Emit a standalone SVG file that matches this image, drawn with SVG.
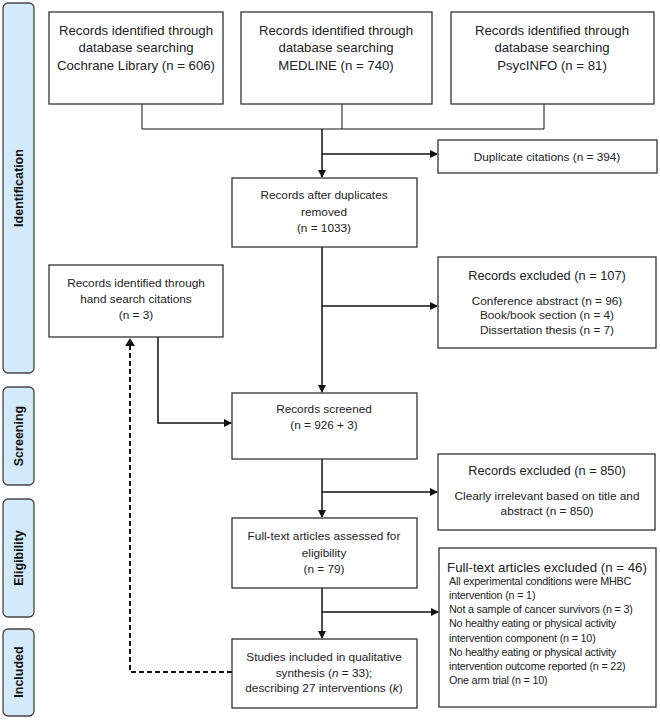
<svg xmlns="http://www.w3.org/2000/svg" width="660" height="720" viewBox="0 0 660 720">
<style>
.box{fill:#fff;stroke:#333;stroke-width:1.3}
.bar{fill:#d2eafb;stroke:#444;stroke-width:1.3}
.t{font-family:"Liberation Sans",Arial,sans-serif;font-size:13.2px;fill:#222;text-anchor:middle}
.s{font-family:"Liberation Sans",Arial,sans-serif;font-size:11.8px;fill:#222;text-anchor:middle}
.h{font-family:"Liberation Sans",Arial,sans-serif;font-size:12.8px;fill:#222;text-anchor:middle}
.h2{font-family:"Liberation Sans",Arial,sans-serif;font-size:13.3px;fill:#222;text-anchor:middle}
.l{font-family:"Liberation Sans",Arial,sans-serif;font-size:10.8px;fill:#222;letter-spacing:-0.2px}
.side{font-family:"Liberation Sans",Arial,sans-serif;font-size:12.5px;font-weight:bold;fill:#111;text-anchor:middle}
.c{fill:none;stroke:#111;stroke-width:1.5}
.cl{fill:none;stroke:#111;stroke-width:1}
.d{fill:none;stroke:#111;stroke-width:2;stroke-dasharray:5,3}
</style>
<defs>
<marker id="ah" markerWidth="8" markerHeight="8" refX="7" refY="4" orient="auto" markerUnits="userSpaceOnUse"><path d="M0,0 L8,4 L0,8 Z" fill="#111"/></marker>
</defs>
<rect width="660" height="720" fill="#fff"/>
<g id="phases">
<g id="phase-identification"><rect class="bar" x="3" y="3" width="31" height="370" rx="5"/><text class="side" transform="translate(23,188) rotate(-90)">Identification</text></g>
<g id="phase-screening"><rect class="bar" x="3" y="387" width="31" height="98" rx="5"/><text class="side" transform="translate(23,436) rotate(-90)">Screening</text></g>
<g id="phase-eligibility"><rect class="bar" x="3" y="499" width="31" height="118" rx="5"/><text class="side" transform="translate(23,558) rotate(-90)">Eligibility</text></g>
<g id="phase-included"><rect class="bar" x="3" y="629" width="31" height="87" rx="5"/><text class="side" transform="translate(23,672) rotate(-90)">Included</text></g>
</g>
<g id="connectors">
<path class="cl" d="M142,104 V129 H544 V104 M342,104 V129"/>
<path class="c" d="M322,129 V177" marker-end="url(#ah)"/>
<path class="c" d="M322,154 H437" marker-end="url(#ah)"/>
<path class="c" d="M322,247 V392" marker-end="url(#ah)"/>
<path class="c" d="M322,306 H437" marker-end="url(#ah)"/>
<path class="c" d="M158,337 V423 H231" marker-end="url(#ah)"/>
<path class="c" d="M322,459 V517" marker-end="url(#ah)"/>
<path class="c" d="M322,492 H437" marker-end="url(#ah)"/>
<path class="c" d="M322,588 V638" marker-end="url(#ah)"/>
<path class="c" d="M322,612 H438" marker-end="url(#ah)"/>
<path class="d" d="M232,672 H130 V346"/>
<path d="M125,346 L130,338 L135,346 Z" fill="#111"/>
</g>
<g id="cochrane"><rect class="box" x="49" y="12" width="174" height="92"/>
<text class="t" x="136" y="35">Records identified through</text><text class="t" x="136" y="52">database searching</text><text class="t" x="136" y="70">Cochrane Library (n = 606)</text></g>
<g id="medline"><rect class="box" x="241" y="12" width="191" height="92"/>
<text class="t" x="336" y="35">Records identified through</text><text class="t" x="336" y="52">database searching</text><text class="t" x="336" y="70">MEDLINE (n = 740)</text></g>
<g id="psycinfo"><rect class="box" x="451" y="12" width="203" height="92"/>
<text class="t" x="552" y="35">Records identified through</text><text class="t" x="552" y="52">database searching</text><text class="t" x="552" y="70">PsycINFO (n = 81)</text></g>
<g id="duplicates"><rect class="box" x="438" y="140" width="219" height="33"/>
<text class="s" x="547" y="161">Duplicate citations (n = 394)</text></g>
<g id="after-duplicates"><rect class="box" x="232" y="178" width="185" height="69"/>
<text class="s" x="324" y="199">Records after duplicates</text><text class="s" x="324" y="216">removed</text><text class="s" x="324" y="232">(n = 1033)</text></g>
<g id="hand-search"><rect class="box" x="49" y="265" width="174" height="72"/>
<text class="s" x="136" y="287">Records identified through</text><text class="s" x="136" y="303">hand search citations</text><text class="s" x="136" y="319">(n = 3)</text></g>
<g id="excluded-107"><rect class="box" x="438" y="257" width="218" height="91"/>
<text class="h" x="547" y="280">Records excluded (n = 107)</text>
<text class="s" x="547" y="305">Conference abstract (n = 96)</text><text class="s" x="547" y="319">Book/book section (n = 4)</text><text class="s" x="547" y="334">Dissertation thesis (n = 7)</text></g>
<g id="screened"><rect class="box" x="232" y="393" width="185" height="66"/>
<text class="s" x="324" y="413">Records screened</text><text class="s" x="324" y="429">(n = 926 + 3)</text></g>
<g id="excluded-850"><rect class="box" x="438" y="454" width="217" height="76"/>
<text class="h" x="547" y="475">Records excluded (n = 850)</text>
<text class="s" x="547" y="500">Clearly irrelevant based on title and</text><text class="s" x="547" y="515">abstract (n = 850)</text></g>
<g id="fulltext"><rect class="box" x="232" y="518" width="185" height="70"/>
<text class="s" x="324" y="540">Full-text articles assessed for</text><text class="s" x="324" y="557">eligibility</text><text class="s" x="324" y="573">(n = 79)</text></g>
<g id="included"><rect class="box" x="232" y="639" width="185" height="69"/>
<text class="s" x="324" y="661">Studies included in qualitative</text><text class="s" x="324" y="677">synthesis (<tspan font-style="italic">n</tspan> = 33);</text><text class="s" x="324" y="692">describing 27 interventions (<tspan font-style="italic">k</tspan>)</text></g>
<g id="fulltext-excluded"><rect class="box" x="439" y="548" width="217" height="159"/>
<text class="h2" x="547" y="572">Full-text articles excluded (n = 46)</text>
<text class="l" x="449" y="585">All experimental conditions were MHBC</text>
<text class="l" x="449" y="599">intervention (n = 1)</text>
<text class="l" x="449" y="613">Not a sample of cancer survivors (n = 3)</text>
<text class="l" x="449" y="627">No healthy eating or physical activity</text>
<text class="l" x="449" y="642">intervention component (n = 10)</text>
<text class="l" x="449" y="656">No healthy eating or physical activity</text>
<text class="l" x="449" y="670">intervention outcome reported (n = 22)</text>
<text class="l" x="449" y="684">One arm trial (n = 10)</text></g>
</svg>
